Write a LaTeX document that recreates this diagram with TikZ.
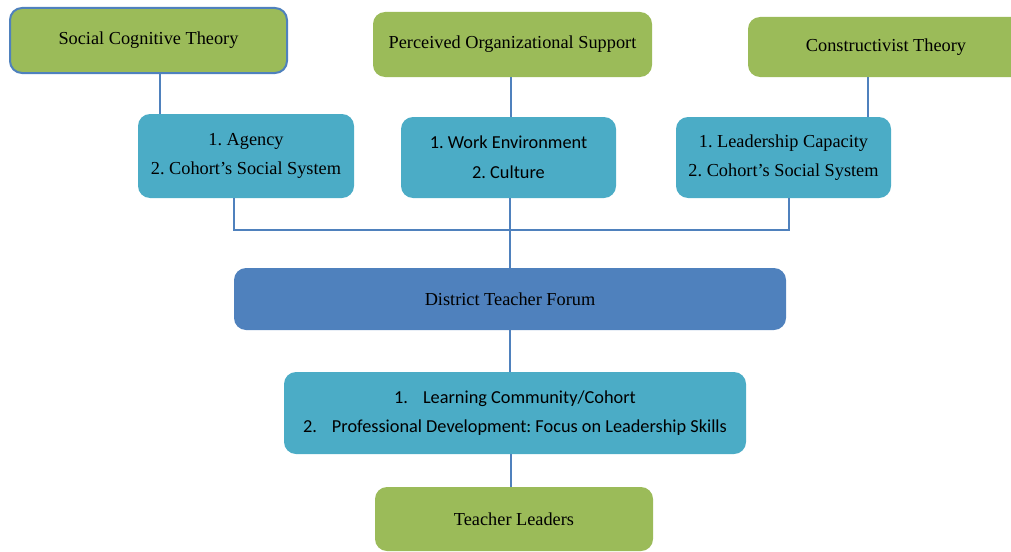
\documentclass[tikz,border=0pt]{standalone}
\usepackage{fontspec}
\setmainfont{Liberation Serif}
\newfontfamily\calibri{Carlito}
\usetikzlibrary{arrows}
\definecolor{leafgreen}{HTML}{9BBB59}
\definecolor{aqua}{HTML}{4BACC6}
\definecolor{steel}{HTML}{4F81BD}
\frenchspacing
\tikzset{
theory/.style={fill=leafgreen, rounded corners=12pt, inner sep=0pt, font=\fontsize{18.3}{21}\selectfont},
concept/.style={fill=aqua, rounded corners=12pt, align=center, inner sep=0pt, font=\fontsize{18.3}{29}\selectfont},
link/.style={color=steel, line width=2pt}
}

\begin{document}
\begin{tikzpicture}[x=1pt,y=-1pt]
\useasboundingbox (0,0) rectangle (1011,551);
\clip (0,0) rectangle (1011,551);
\node[theory, draw=steel, line width=2pt, minimum width=277pt, minimum height=65pt] (sct) at (148.5,40.5) {Social Cognitive Theory};
\node[theory, minimum width=279pt, minimum height=65pt] (pos) at (512.5,44.5) {Perceived Organizational Support};
\node[theory, minimum width=276pt, minimum height=60pt] (ct) at (886,47) {Constructivist Theory};
\node[concept, minimum width=216pt, minimum height=84pt] (agency) at (246,156) {1. Agency\\2. Cohort’s Social System};
\node[concept, minimum width=215pt, minimum height=81pt, font=\calibri\fontsize{18.3}{30}\selectfont] (we) at (508.5,157.5) {1. Work Environment\\2. Culture};
\node[concept, minimum width=215pt, minimum height=81pt] (lc) at (783.5,157.5) {1. Leadership Capacity\\2. Cohort’s Social System};
\node[concept, fill=steel, minimum width=552pt, minimum height=62pt, font=\fontsize{18.3}{21}\selectfont] (dtf) at (510,299) {District Teacher Forum};
\node[concept, minimum width=462pt, minimum height=82pt, font=\calibri\fontsize{18.3}{29}\selectfont] (lcc) at (515,413) {1.\hspace{15pt}Learning Community/Cohort\\2.\hspace{15pt}Professional Development: Focus on Leadership Skills};
\node[theory, minimum width=278pt, minimum height=64pt] (tl) at (514,519) {Teacher Leaders};

\coordinate (sctfoot) at ([xshift=11.5pt]sct.south);
\coordinate (posfoot) at ([xshift=-1.5pt]pos.south);
\coordinate (ctfoot) at ([xshift=-18pt]ct.south);
\coordinate (bar) at (510,230);
\draw[link] (sctfoot) -- (sctfoot |- agency.north);
\draw[link] (posfoot) -- (posfoot |- we.north);
\draw[link] (ctfoot) -- (ctfoot |- lc.north);
\draw[link] ([xshift=-12pt]agency.south) |- (bar) -| ([xshift=5.5pt]lc.south);
\draw[link] (bar |- we.south) -- (bar |- dtf.north);
\draw[link] (dtf.south) -- (dtf.south |- lcc.north);
\draw[link] ([xshift=-4pt]lcc.south) -- ([xshift=-4pt]lcc.south |- tl.north);
\end{tikzpicture}
\end{document}
